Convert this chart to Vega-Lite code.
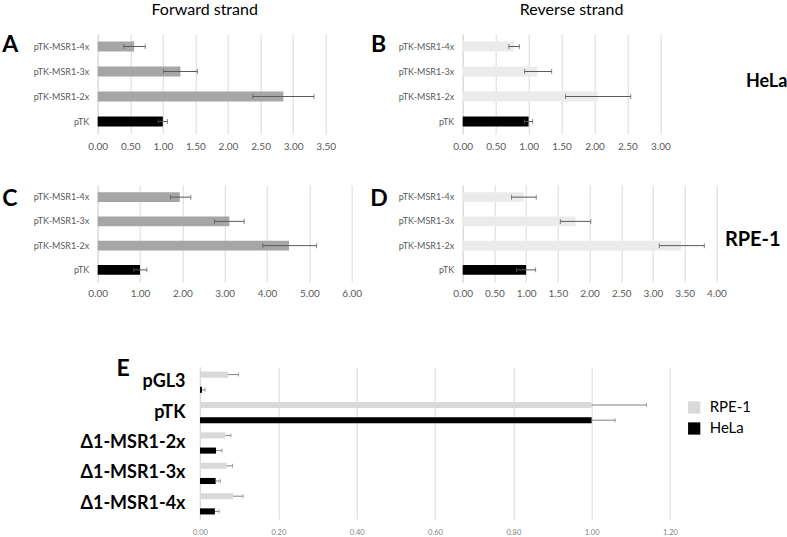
{
  "$schema": "https://vega.github.io/schema/vega-lite/v6.json",
  "background": "white",
  "padding": {"left": 1.7, "top": 1, "right": 0, "bottom": 0},
  "resolve": {"scale": {"color": "independent"}, "legend": {"color": "independent"}},
  "config": {
    "view": {"stroke": null},
    "font": "Lato",
    "axis": {"ticks": false, "gridColor": "#d9d9d9", "domainColor": "#d9d9d9", "labelFont": "Lato", "labelColor": "#595959", "titleFont": "Lato", "labelOverlap": false, "labelFlush": false},
    "axisX": {"domain": false, "grid": true, "labelFontSize": 10, "labelPadding": 7, "format": ".2f"},
    "axisY": {"grid": false, "domain": true, "labelFontSize": 9, "labelPadding": 9, "titleAngle": 0, "titleAlign": "left", "titleBaseline": "middle", "titleFontSize": 23, "titleFontWeight": "bold", "titleColor": "#000000"},
    "title": {"font": "Lato", "fontSize": 16, "fontWeight": "normal", "color": "#000000", "offset": 16}
  },
  "vconcat": [
    {
      "spacing": 34,
      "vconcat": [
        {
          "spacing": 34,
          "hconcat": [
            {
              "width": 228, "height": 100,
              "title": {"text": "Forward strand", "dx": -7},
              "data": {"values": [
                {"construct": "pTK-MSR1-4x", "v": 0.56, "lo": 0.40, "hi": 0.73},
                {"construct": "pTK-MSR1-3x", "v": 1.27, "lo": 1.01, "hi": 1.53},
                {"construct": "pTK-MSR1-2x", "v": 2.85, "lo": 2.38, "hi": 3.32},
                {"construct": "pTK", "v": 1.00, "lo": 0.93, "hi": 1.07}
              ]},
              "encoding": {
                "y": {"field": "construct", "type": "nominal", "sort": ["pTK-MSR1-4x", "pTK-MSR1-3x", "pTK-MSR1-2x", "pTK"], "scale": {"paddingInner": 0.6, "paddingOuter": 0.3}, "axis": {"title": "A", "titleX": -96, "titleY": 10.5}}
              },
              "layer": [
                {"mark": {"type": "bar"}, "encoding": {
                  "x": {"field": "v", "type": "quantitative", "title": null, "scale": {"domain": [0, 3.5], "nice": false}, "axis": {"values": [0, 0.5, 1, 1.5, 2, 2.5, 3, 3.5]}},
                  "color": {"condition": {"test": "datum.construct === 'pTK'", "value": "#000000"}, "value": "#a6a6a6"}}},
                {"mark": {"type": "rule", "color": "#595959", "strokeWidth": 1}, "encoding": {"x": {"field": "lo", "type": "quantitative", "title": null, "axis": {"values": [0, 0.5, 1, 1.5, 2, 2.5, 3, 3.5]}}, "x2": {"field": "hi"}}},
                {"mark": {"type": "tick", "color": "#595959", "size": 5, "thickness": 1}, "encoding": {"x": {"field": "lo", "type": "quantitative", "title": null, "axis": {"values": [0, 0.5, 1, 1.5, 2, 2.5, 3, 3.5]}}}},
                {"mark": {"type": "tick", "color": "#595959", "size": 5, "thickness": 1}, "encoding": {"x": {"field": "hi", "type": "quantitative", "title": null, "axis": {"values": [0, 0.5, 1, 1.5, 2, 2.5, 3, 3.5]}}}}
              ]
            },
            {
              "width": 197.7, "height": 100,
              "title": {"text": "Reverse strand", "dx": 10},
              "data": {"values": [
                {"construct": "pTK-MSR1-4x", "v": 0.78, "lo": 0.70, "hi": 0.86},
                {"construct": "pTK-MSR1-3x", "v": 1.13, "lo": 0.94, "hi": 1.35},
                {"construct": "pTK-MSR1-2x", "v": 2.05, "lo": 1.56, "hi": 2.55},
                {"construct": "pTK", "v": 1.00, "lo": 0.94, "hi": 1.06}
              ]},
              "resolve": {"axis": {"y": "independent"}},
              "layer": [
                {"mark": {"type": "bar"}, "encoding": {
                  "y": {"field": "construct", "type": "nominal", "sort": ["pTK-MSR1-4x", "pTK-MSR1-3x", "pTK-MSR1-2x", "pTK"], "scale": {"paddingInner": 0.6, "paddingOuter": 0.3}, "axis": {"title": "B", "titleX": -92.3, "titleY": 10.5}},
                  "x": {"field": "v", "type": "quantitative", "title": null, "scale": {"domain": [0, 3], "nice": false}, "axis": {"values": [0, 0.5, 1, 1.5, 2, 2.5, 3]}},
                  "color": {"condition": {"test": "datum.construct === 'pTK'", "value": "#000000"}, "value": "#ebebeb"}}},
                {"mark": {"type": "rule", "color": "#595959", "strokeWidth": 1}, "encoding": {
                  "y": {"field": "construct", "type": "nominal", "sort": ["pTK-MSR1-4x", "pTK-MSR1-3x", "pTK-MSR1-2x", "pTK"], "axis": {"orient": "right", "labels": false, "domain": false, "ticks": false, "grid": false, "title": "HeLa", "titleX": 85, "titleY": 47, "titleFontSize": 18}},
                  "x": {"field": "lo", "type": "quantitative", "title": null, "axis": {"values": [0, 0.5, 1, 1.5, 2, 2.5, 3]}}, "x2": {"field": "hi"}}},
                {"mark": {"type": "tick", "color": "#595959", "size": 5, "thickness": 1}, "encoding": {
                  "y": {"field": "construct", "type": "nominal", "sort": ["pTK-MSR1-4x", "pTK-MSR1-3x", "pTK-MSR1-2x", "pTK"], "axis": null},
                  "x": {"field": "lo", "type": "quantitative", "title": null, "axis": {"values": [0, 0.5, 1, 1.5, 2, 2.5, 3]}}}},
                {"mark": {"type": "tick", "color": "#595959", "size": 5, "thickness": 1}, "encoding": {
                  "y": {"field": "construct", "type": "nominal", "sort": ["pTK-MSR1-4x", "pTK-MSR1-3x", "pTK-MSR1-2x", "pTK"], "axis": null},
                  "x": {"field": "hi", "type": "quantitative", "title": null, "axis": {"values": [0, 0.5, 1, 1.5, 2, 2.5, 3]}}}}
              ]
            }
          ]
        },
        {
          "spacing": 8,
          "hconcat": [
            {
              "width": 254, "height": 97,
              "data": {"values": [
                {"construct": "pTK-MSR1-4x", "v": 1.94, "lo": 1.72, "hi": 2.20},
                {"construct": "pTK-MSR1-3x", "v": 3.11, "lo": 2.76, "hi": 3.46},
                {"construct": "pTK-MSR1-2x", "v": 4.52, "lo": 3.90, "hi": 5.17},
                {"construct": "pTK", "v": 1.00, "lo": 0.85, "hi": 1.16}
              ]},
              "encoding": {
                "y": {"field": "construct", "type": "nominal", "sort": ["pTK-MSR1-4x", "pTK-MSR1-3x", "pTK-MSR1-2x", "pTK"], "scale": {"paddingInner": 0.6, "paddingOuter": 0.3}, "axis": {"title": "C", "titleX": -96, "titleY": 13}}
              },
              "layer": [
                {"mark": {"type": "bar"}, "encoding": {
                  "x": {"field": "v", "type": "quantitative", "title": null, "scale": {"domain": [0, 6], "nice": false}, "axis": {"values": [0, 1, 2, 3, 4, 5, 6]}},
                  "color": {"condition": {"test": "datum.construct === 'pTK'", "value": "#000000"}, "value": "#a6a6a6"}}},
                {"mark": {"type": "rule", "color": "#595959", "strokeWidth": 1}, "encoding": {"x": {"field": "lo", "type": "quantitative", "title": null, "axis": {"values": [0, 1, 2, 3, 4, 5, 6]}}, "x2": {"field": "hi"}}},
                {"mark": {"type": "tick", "color": "#595959", "size": 5, "thickness": 1}, "encoding": {"x": {"field": "lo", "type": "quantitative", "title": null, "axis": {"values": [0, 1, 2, 3, 4, 5, 6]}}}},
                {"mark": {"type": "tick", "color": "#595959", "size": 5, "thickness": 1}, "encoding": {"x": {"field": "hi", "type": "quantitative", "title": null, "axis": {"values": [0, 1, 2, 3, 4, 5, 6]}}}}
              ]
            },
            {
              "width": 253.7, "height": 97,
              "data": {"values": [
                {"construct": "pTK-MSR1-4x", "v": 0.96, "lo": 0.77, "hi": 1.16},
                {"construct": "pTK-MSR1-3x", "v": 1.78, "lo": 1.54, "hi": 2.02},
                {"construct": "pTK-MSR1-2x", "v": 3.45, "lo": 3.10, "hi": 3.81},
                {"construct": "pTK", "v": 1.00, "lo": 0.85, "hi": 1.15}
              ]},
              "resolve": {"axis": {"y": "independent"}},
              "layer": [
                {"mark": {"type": "bar"}, "encoding": {
                  "y": {"field": "construct", "type": "nominal", "sort": ["pTK-MSR1-4x", "pTK-MSR1-3x", "pTK-MSR1-2x", "pTK"], "scale": {"paddingInner": 0.6, "paddingOuter": 0.3}, "axis": {"title": "D", "titleX": -93, "titleY": 13}},
                  "x": {"field": "v", "type": "quantitative", "title": null, "scale": {"domain": [0, 4], "nice": false}, "axis": {"values": [0, 0.5, 1, 1.5, 2, 2.5, 3, 3.5, 4]}},
                  "color": {"condition": {"test": "datum.construct === 'pTK'", "value": "#000000"}, "value": "#ebebeb"}}},
                {"mark": {"type": "rule", "color": "#595959", "strokeWidth": 1}, "encoding": {
                  "y": {"field": "construct", "type": "nominal", "sort": ["pTK-MSR1-4x", "pTK-MSR1-3x", "pTK-MSR1-2x", "pTK"], "axis": {"orient": "right", "labels": false, "domain": false, "ticks": false, "grid": false, "title": "RPE-1", "titleX": 8, "titleY": 54, "titleFontSize": 20}},
                  "x": {"field": "lo", "type": "quantitative", "title": null, "axis": {"values": [0, 0.5, 1, 1.5, 2, 2.5, 3, 3.5, 4]}}, "x2": {"field": "hi"}}},
                {"mark": {"type": "tick", "color": "#595959", "size": 5, "thickness": 1}, "encoding": {
                  "y": {"field": "construct", "type": "nominal", "sort": ["pTK-MSR1-4x", "pTK-MSR1-3x", "pTK-MSR1-2x", "pTK"], "axis": null},
                  "x": {"field": "lo", "type": "quantitative", "title": null, "axis": {"values": [0, 0.5, 1, 1.5, 2, 2.5, 3, 3.5, 4]}}}},
                {"mark": {"type": "tick", "color": "#595959", "size": 5, "thickness": 1}, "encoding": {
                  "y": {"field": "construct", "type": "nominal", "sort": ["pTK-MSR1-4x", "pTK-MSR1-3x", "pTK-MSR1-2x", "pTK"], "axis": null},
                  "x": {"field": "hi", "type": "quantitative", "title": null, "axis": {"values": [0, 0.5, 1, 1.5, 2, 2.5, 3, 3.5, 4]}}}}
              ]
            }
          ]
        }
      ]
    },
    {
      "width": 572.3, "height": 152,
      "resolve": {"axis": {"x": "independent"}},
      "data": {"values": [
        {"construct": "pGL3", "line": "RPE-1", "v": 0.072, "hi": 0.098},
        {"construct": "pGL3", "line": "HeLa", "v": 0.005, "hi": 0.013},
        {"construct": "pTK", "line": "RPE-1", "v": 1.0, "hi": 1.14},
        {"construct": "pTK", "line": "HeLa", "v": 1.0, "hi": 1.06},
        {"construct": "Δ1-MSR1-2x", "line": "RPE-1", "v": 0.065, "hi": 0.079},
        {"construct": "Δ1-MSR1-2x", "line": "HeLa", "v": 0.041, "hi": 0.056},
        {"construct": "Δ1-MSR1-3x", "line": "RPE-1", "v": 0.068, "hi": 0.083},
        {"construct": "Δ1-MSR1-3x", "line": "HeLa", "v": 0.040, "hi": 0.052},
        {"construct": "Δ1-MSR1-4x", "line": "RPE-1", "v": 0.085, "hi": 0.110},
        {"construct": "Δ1-MSR1-4x", "line": "HeLa", "v": 0.038, "hi": 0.049}
      ]},
      "encoding": {
        "y": {"field": "construct", "type": "nominal", "sort": ["pGL3", "pTK", "Δ1-MSR1-2x", "Δ1-MSR1-3x", "Δ1-MSR1-4x"], "scale": {"paddingInner": 0, "paddingOuter": 0},
          "axis": {"title": "E", "titleX": -84, "titleY": 2, "offset": -102.3, "labelFontSize": 18, "labelFontWeight": "bold", "labelColor": "#000000", "labelPadding": 15}},
        "yOffset": {"field": "line", "type": "nominal", "sort": ["RPE-1", "HeLa"], "scale": {"paddingInner": 0.6, "paddingOuter": 0.3}}
      },
      "layer": [
        {"mark": {"type": "bar"}, "encoding": {
          "x": {"field": "v", "type": "quantitative", "title": null, "scale": {"domain": [-0.2612, 1.2], "nice": false, "zero": false}, "axis": {"orient": "bottom", "values": [0, 0.2, 0.4, 0.6, 0.8, 1.0, 1.2], "labelFontSize": 7.5, "labelColor": "#7f7f7f", "labelPadding": 10}},
          "color": {"field": "line", "type": "nominal", "scale": {"domain": ["RPE-1", "HeLa"], "range": ["#d9d9d9", "#000000"]},
            "legend": {"orient": "none", "legendX": 589, "legendY": 33, "title": null, "padding": 0, "symbolType": "square", "symbolSize": 150, "symbolStrokeWidth": 0, "labelFontSize": 15, "labelFont": "Lato", "labelColor": "#000000", "labelOffset": 8, "rowPadding": 5}}}},
        {"mark": {"type": "rule", "color": "#7f7f7f", "strokeWidth": 1}, "encoding": {"x": {"field": "v", "type": "quantitative", "axis": null}, "x2": {"field": "hi"}}},
        {"mark": {"type": "tick", "color": "#7f7f7f", "size": 4, "thickness": 1}, "encoding": {"x": {"field": "hi", "type": "quantitative", "axis": null}}}
      ]
    }
  ],
  "spacing": 59
}
